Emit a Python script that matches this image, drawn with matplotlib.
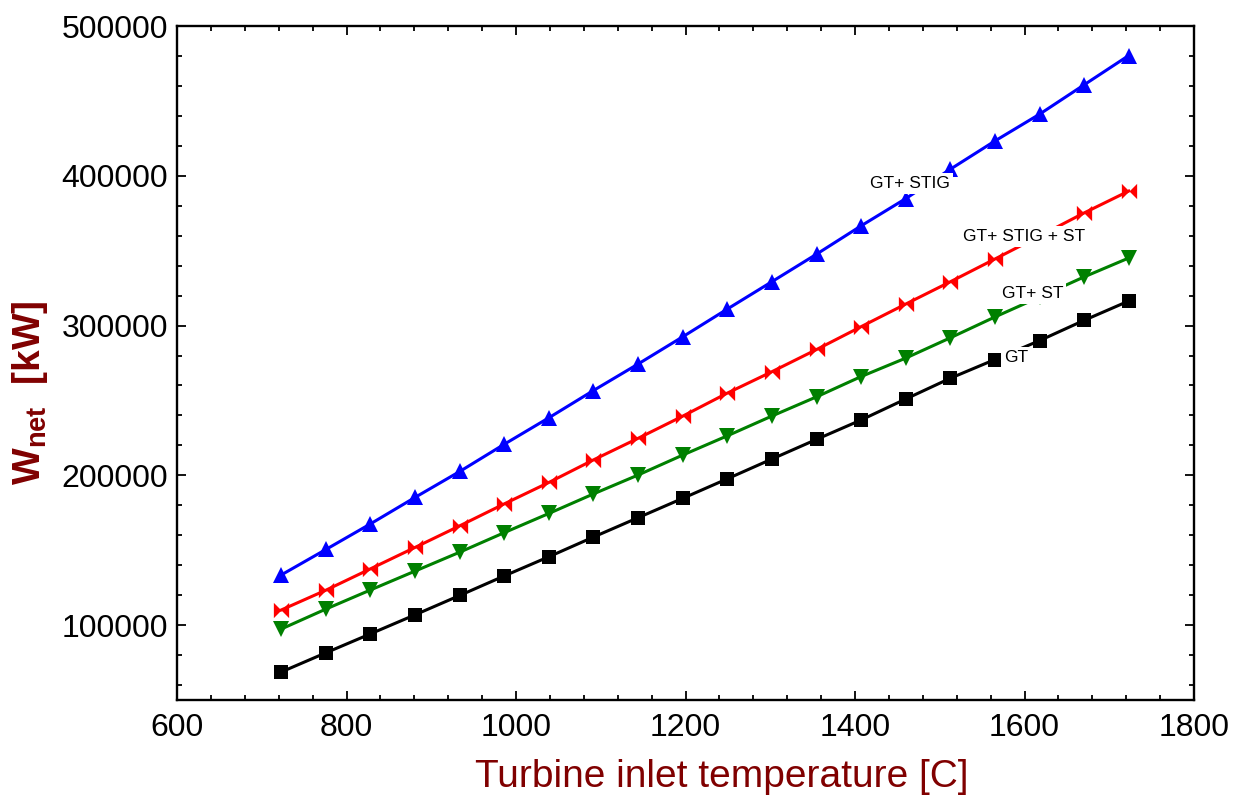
import matplotlib
matplotlib.use("Agg")
import matplotlib.pyplot as plt
from matplotlib.path import Path
from matplotlib.ticker import MultipleLocator

plt.rcParams["font.family"] = ["Liberation Sans", "DejaVu Sans"]
plt.rcParams["mathtext.fontset"] = "custom"
plt.rcParams["mathtext.rm"] = "Liberation Sans"
plt.rcParams["mathtext.bf"] = "Liberation Sans:bold"
plt.rcParams["mathtext.it"] = "Liberation Sans:italic"

# turbine inlet temperature [C]
tit = [723, 776, 828, 881, 934, 986, 1039, 1091, 1144, 1197,
       1249, 1302, 1355, 1407, 1460, 1512, 1565, 1618, 1670, 1723]

# net work [kW]
w_gt = [68700, 81600, 94100, 106900, 119900, 132800, 145700, 158700, 171700, 184700,
        197600, 210900, 224100, 236900, 251000, 264700, 277300, 290000, 303400, 316400]
w_gt_st = [97400, 110800, 123400, 136100, 148800, 161700, 174600, 187500, 200200, 213600,
           226300, 239600, 252500, 265900, 278300, 291700, 305700, 319100, 332400, 345100]
w_gt_stig_st = [110100, 123400, 137500, 151900, 166400, 180900, 195300, 210200, 224700, 239600,
                254800, 269200, 284100, 299200, 314400, 329100, 344400, 359800, 375100, 389800]
w_gt_stig = [133500, 150600, 167500, 185300, 202700, 220700, 238500, 256500, 274300, 292600,
             310900, 329300, 347800, 366500, 384800, 404200, 423200, 441200, 460600, 480300]

label_color = "#800000"

# bowtie marker (two triangles meeting at the centre)
bowtie = Path(
    [(-1, -1), (0, 0), (-1, 1), (-1, -1), (1, -1), (0, 0), (1, 1), (1, -1)],
    [Path.MOVETO, Path.LINETO, Path.LINETO, Path.CLOSEPOLY,
     Path.MOVETO, Path.LINETO, Path.LINETO, Path.CLOSEPOLY],
)

fig = plt.figure(figsize=(12.39, 7.97), dpi=100)
ax = fig.add_axes([177 / 1239, 1 - 700 / 797, (1194 - 177) / 1239, (700 - 26) / 797])

lw = 2.2
ax.plot(tit, w_gt, color="black", lw=lw, marker="s", ms=9.5, mew=0)
ax.plot(tit, w_gt_st, color="green", lw=lw, marker="v", ms=11, mew=0)
ax.plot(tit, w_gt_stig_st, color="red", lw=lw, marker=bowtie, ms=11, mew=0)
ax.plot(tit, w_gt_stig, color="blue", lw=lw, marker="^", ms=11, mew=0)

box = dict(boxstyle="square,pad=0.15", fc="white", ec="none")
for txt, x, y in [("GT+ STIG", 1465, 391800),
                  ("GT+ STIG + ST", 1599, 356450),
                  ("GT+ ST", 1610, 318400),
                  ("GT", 1590, 275700)]:
    ax.text(x, y, txt, fontsize=12.5, ha="center", va="baseline", bbox=box, zorder=5)

ax.set_xlim(600, 1800)
ax.set_ylim(50000, 500000)
ax.xaxis.set_major_locator(MultipleLocator(200))
ax.xaxis.set_minor_locator(MultipleLocator(40))
ax.yaxis.set_major_locator(MultipleLocator(100000))
ax.yaxis.set_minor_locator(MultipleLocator(20000))

ax.tick_params(which="both", direction="in", top=True, right=True, width=1.3)
ax.tick_params(which="major", length=6.5, labelsize=23)
ax.tick_params(which="minor", length=3.5)
ax.tick_params(axis="x", pad=9)
ax.tick_params(axis="y", pad=6.5)
for s in ax.spines.values():
    s.set_linewidth(1.7)

fig.text(721.5 / 1239, 1 - 787 / 797, "Turbine inlet temperature [C]",
         fontsize=28, color=label_color, ha="center", va="baseline")
fig.text(30 / 1239, 1 - 393 / 797, r"$\mathbf{W_{net}}$  [kW]",
         fontsize=28, fontweight="bold", color=label_color,
         rotation=90, ha="center", va="center")

fig.savefig("out.png", dpi=100)
